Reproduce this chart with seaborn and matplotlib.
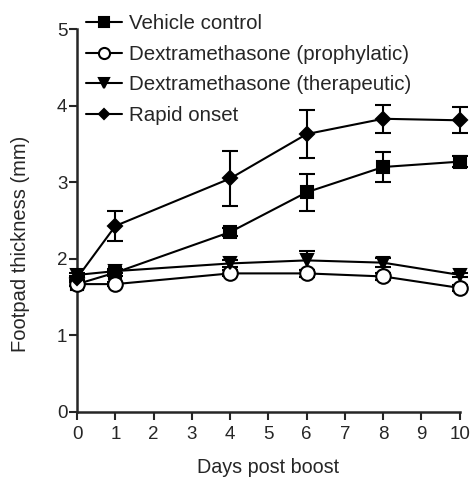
import numpy as np
import pandas as pd
import seaborn as sns
from matplotlib import pyplot as plt

# Data
days = [0, 1, 4, 6, 8, 10]
groups = ['Vehicle control', 'Dextramethasone (prophylatic)',
          'Dextramethasone (therapeutic)', 'Rapid onset']

vehicle = [1.67, 1.82, 2.35, 2.87, 3.20, 3.27]
vehicle_err = [0.03, 0.04, 0.05, 0.24, 0.20, 0.07]
prophylactic = [1.67, 1.67, 1.81, 1.81, 1.77, 1.62]
prophylactic_err = [0.03, 0.03, 0.04, 0.05, 0.05, 0.04]
therapeutic = [1.79, 1.84, 1.94, 1.98, 1.95, 1.79]
therapeutic_err = [0.03, 0.03, 0.04, 0.12, 0.06, 0.03]
rapid = [1.75, 2.43, 3.05, 3.63, 3.83, 3.81]
rapid_err = [0.03, 0.20, 0.36, 0.31, 0.18, 0.17]

values = [vehicle, prophylactic, therapeutic, rapid]
errors = [vehicle_err, prophylactic_err, therapeutic_err, rapid_err]

df = pd.DataFrame({
    'day': days * len(groups),
    'thickness': sum(values, []),
    'err': sum(errors, []),
    'group': np.repeat(groups, len(days)),
})

sns.set_style('ticks')
plt.rcParams['font.family'] = ['Liberation Sans', 'DejaVu Sans']

fig = plt.figure(figsize=(4.73, 4.79), dpi=100)
ax = fig.add_axes([0.163, 0.140, 0.809, 0.799])

markers = {'Vehicle control': 's', 'Dextramethasone (prophylatic)': 'o',
           'Dextramethasone (therapeutic)': 'v', 'Rapid onset': 'D'}
msizes = {'Vehicle control': 8.5, 'Dextramethasone (prophylatic)': 10.5,
          'Dextramethasone (therapeutic)': 9, 'Rapid onset': 7}
leg_sizes = {'Vehicle control': 6.5, 'Dextramethasone (prophylatic)': 8,
             'Dextramethasone (therapeutic)': 7, 'Rapid onset': 5.5}

# error bars first so markers sit on top
for g in groups:
    sub = df[df['group'] == g]
    ax.errorbar(sub['day'], sub['thickness'], yerr=sub['err'], fmt='none',
                ecolor='black', elinewidth=1.5, capsize=5.5, capthick=1.5,
                clip_on=False, zorder=2)

sns.lineplot(data=df, x='day', y='thickness', style='group', hue='group',
             palette=['black'] * 4, markers=markers, dashes=False, ax=ax,
             linewidth=1.5, markeredgecolor='black', legend=False, zorder=3,
             clip_on=False)

# set per-marker sizes and fill
for line, g in zip(ax.get_lines()[-4:], groups):
    line.set_markersize(msizes[g])
    line.set_markeredgewidth(1.5)
    if g == 'Dextramethasone (prophylatic)':
        line.set_markerfacecolor('white')
    else:
        line.set_markerfacecolor('black')
    line.set_clip_on(False)

ax.set_xlim(0, 10)
ax.set_ylim(0, 5)
ax.set_xticks(range(0, 11))
ax.set_yticks(range(0, 6))
ax.tick_params(direction='out', length=6, width=1.5, labelsize=13.5, pad=1)
ax.tick_params(axis='x', pad=4)
for s in ['left', 'bottom']:
    ax.spines[s].set_linewidth(1.8)
sns.despine(ax=ax)

ax.set_xlabel('Days post boost', fontsize=14.2)
ax.set_ylabel('Footpad thickness (mm)', fontsize=14.5)
ax.xaxis.set_label_coords(0.5, -0.12)
ax.yaxis.set_label_coords(-0.124, 0.44)

# legend handles built from the drawn lines
handles = []
for line, g in zip(ax.get_lines()[-4:], groups):
    h = plt.Line2D([], [], color='black', lw=1.5, marker=line.get_marker(),
                   markersize=leg_sizes[g], markeredgewidth=1.5,
                   markerfacecolor=line.get_markerfacecolor(),
                   markeredgecolor='black')
    handles.append(h)
ax.legend(handles, groups, loc='upper left', bbox_to_anchor=(86 / 473, 1 - 14 / 479),
          bbox_transform=fig.transFigure, frameon=False, fontsize=14.8,
          handlelength=1.75, handletextpad=0.35, labelspacing=0.57,
          borderaxespad=0, borderpad=0)

fig.savefig('out.png', dpi=100)
